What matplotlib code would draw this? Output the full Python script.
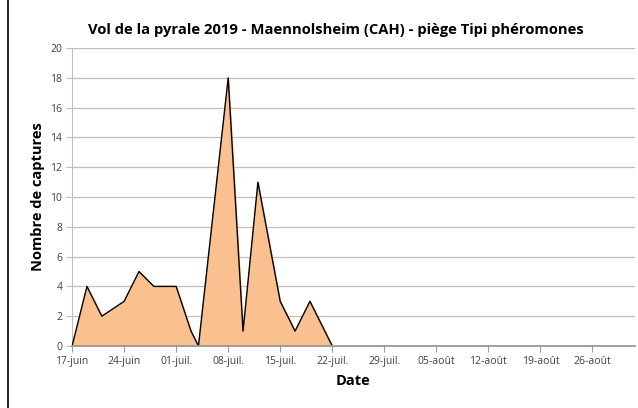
"""Vol de la pyrale 2019 - area chart of trap captures."""

import datetime as dt
import matplotlib
matplotlib.use("Agg")
import matplotlib.pyplot as plt
from matplotlib.lines import Line2D

# capture dates and counts
dates = ["2019-06-17", "2019-06-19", "2019-06-21", "2019-06-24", "2019-06-26",
         "2019-06-28", "2019-07-01", "2019-07-03", "2019-07-04", "2019-07-08",
         "2019-07-10", "2019-07-12", "2019-07-15", "2019-07-17", "2019-07-19",
         "2019-07-22"]
captures = [0, 4, 2, 3, 5, 4, 4, 1, 0, 18, 1, 11, 3, 1, 3, 0]

tick_dates = ["2019-06-17", "2019-06-24", "2019-07-01", "2019-07-08",
              "2019-07-15", "2019-07-22", "2019-07-29", "2019-08-05",
              "2019-08-12", "2019-08-19", "2019-08-26"]
tick_labels = ["17-juin", "24-juin", "01-juil.", "08-juil.", "15-juil.",
               "22-juil.", "29-juil.", "05-août", "12-août", "19-août",
               "26-août"]

plt.rcParams['font.family'] = ['Open Sans', 'DejaVu Sans']

x = [dt.datetime.strptime(d, "%Y-%m-%d") for d in dates]
xt = [dt.datetime.strptime(d, "%Y-%m-%d") for d in tick_dates]

fig = plt.figure(figsize=(6.38, 4.08), dpi=100)
ax = fig.add_axes([0.113, 0.152, 0.882, 0.730])

ax.fill_between(x, captures, 0, color="#FAC090", zorder=2)
ax.plot(x, captures, color="black", lw=1.0, zorder=3)

ax.set_ylim(0, 20)
ax.set_yticks(range(0, 21, 2))
ax.set_xlim(dt.datetime(2019, 6, 17), dt.datetime(2019, 8, 31, 17))
ax.set_xticks(xt)
ax.set_xticklabels(tick_labels)

ax.grid(axis="y", color="#BFBFBF", lw=0.9, zorder=0)
for s in ("top", "right"):
    ax.spines[s].set_visible(False)
ax.spines["left"].set_color("#BFBFBF")
ax.spines["bottom"].set_color("#9A9A9A")
ax.spines["bottom"].set_linewidth(1.3)
ax.spines["bottom"].set_zorder(4)
ax.tick_params(axis="x", colors="#9A9A9A", labelcolor="#404040",
               labelsize=7.5, length=4, pad=3)
ax.tick_params(axis="y", colors="#BFBFBF", labelcolor="#404040",
               labelsize=7.5, length=4, pad=3)

ax.set_title("Vol de la pyrale 2019 - Maennolsheim (CAH) - piège Tipi phéromones",
             fontsize=10.6, fontweight="bold", pad=10, x=0.468)
ax.set_xlabel("Date", fontsize=10.5, fontweight="bold", labelpad=5)
ax.set_ylabel("Nombre de captures", fontsize=10.5, fontweight="bold", labelpad=4)

# left border line from the original slide
fig.add_artist(Line2D([0.013, 0.013], [0, 1], color="black", lw=1.2))

fig.savefig("out.png", dpi=100)
